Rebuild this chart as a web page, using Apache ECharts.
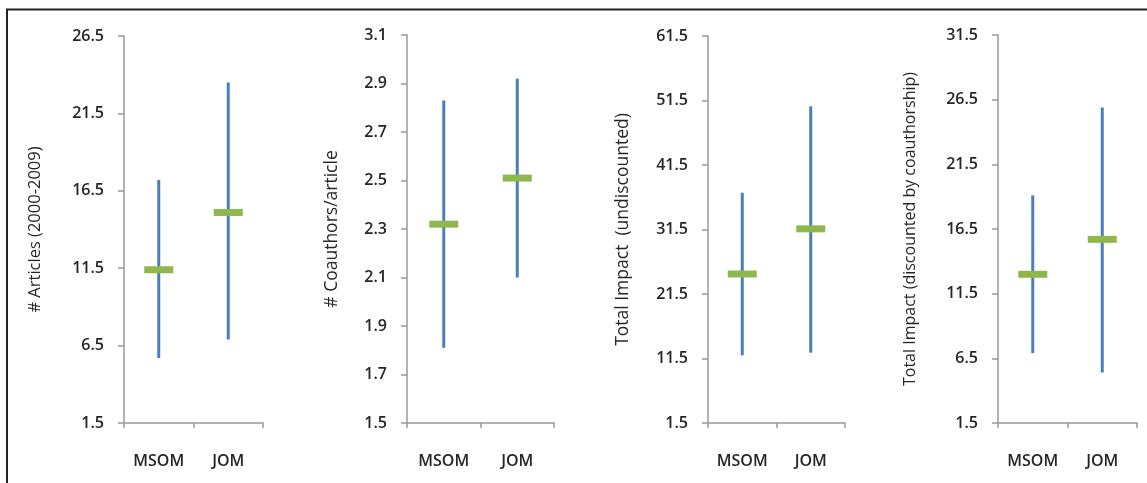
<!DOCTYPE html>
<html><head><meta charset="utf-8">
<script src="https://cdn.jsdelivr.net/npm/echarts@6/dist/echarts.min.js"></script>
<style>html,body{margin:0;padding:0;background:#fff}#c{width:1147px;height:483px}</style>
</head><body><div id="c"></div>
<script>
// Categories
const categories = ['MSOM', 'JOM'];

// Panel 1: # Articles (2000-2009)
const articlesLow  = [5.7, 6.9];
const articlesHigh = [17.2, 23.5];
const articlesMean = [11.4, 15.1];
const articlesTicks = [1.5, 6.5, 11.5, 16.5, 21.5, 26.5];

// Panel 2: # Coauthors/article
const coauthLow  = [1.81, 2.10];
const coauthHigh = [2.83, 2.92];
const coauthMean = [2.32, 2.51];
const coauthTicks = [1.5, 1.7, 1.9, 2.1, 2.3, 2.5, 2.7, 2.9, 3.1];

// Panel 3: Total Impact (undiscounted)
const impactLow  = [12.0, 12.4];
const impactHigh = [37.2, 50.6];
const impactMean = [24.6, 31.6];
const impactTicks = [1.5, 11.5, 21.5, 31.5, 41.5, 51.5, 61.5];

// Panel 4: Total Impact (discounted by coauthorship)
const discLow  = [6.9, 5.4];
const discHigh = [19.1, 25.9];
const discMean = [13.0, 15.7];
const discTicks = [1.5, 6.5, 11.5, 16.5, 21.5, 26.5, 31.5];

const panels = [
  {name: '# Articles (2000-2009)', low: articlesLow, high: articlesHigh, mean: articlesMean, ticks: articlesTicks,
   grid: {left: 124, top: 36, width: 139, height: 387}, gap: 89, nameSize: 16.5},
  {name: '# Coauthors/article', low: coauthLow, high: coauthHigh, mean: coauthMean, ticks: coauthTicks,
   grid: {left: 407, top: 35, width: 147, height: 388}, gap: 75, nameSize: 17.5},
  {name: 'Total Impact  (undiscounted)', low: impactLow, high: impactHigh, mean: impactMean, ticks: impactTicks,
   grid: {left: 708, top: 36, width: 137, height: 387}, gap: 85, nameSize: 17.5},
  {name: 'Total Impact (discounted by coauthorship)', low: discLow, high: discHigh, mean: discMean, ticks: discTicks,
   grid: {left: 998, top: 35, width: 139, height: 388}, gap: 88, nameSize: 16}
];

const axisColor = '#999999';
const textColor = '#262626';
const fontFamily = 'Open Sans';

const grids = [], xAxes = [], yAxes = [], series = [];
panels.forEach((p, i) => {
  grids.push(Object.assign({}, p.grid));
  xAxes.push({
    type: 'category', gridIndex: i, data: categories, boundaryGap: true,
    axisLine: {lineStyle: {color: axisColor, width: 1.5}},
    axisTick: {show: true, alignWithLabel: false, length: 5, inside: false, lineStyle: {color: axisColor, width: 1.5}},
    axisLabel: {color: textColor, fontFamily: fontFamily, fontSize: 16, fontWeight: 600, margin: 30},
    splitLine: {show: false}
  });
  yAxes.push({
    type: 'value', gridIndex: i,
    min: p.ticks[0], max: p.ticks[p.ticks.length - 1],
    name: p.name, nameLocation: 'middle', nameGap: p.gap, nameRotate: 90,
    nameTextStyle: {color: textColor, fontFamily: fontFamily, fontSize: p.nameSize, verticalAlign: 'middle'},
    axisLine: {show: true, lineStyle: {color: axisColor, width: 1.5}},
    axisTick: {show: true, length: 6, customValues: p.ticks, lineStyle: {color: axisColor, width: 1.5}},
    axisLabel: {color: textColor, fontFamily: fontFamily, fontSize: 16, fontWeight: 600, margin: 20, customValues: p.ticks},
    splitLine: {show: false}
  });
  series.push({
    type: 'custom', xAxisIndex: i, yAxisIndex: i,
    encode: {x: 0, y: [1, 2]},
    data: categories.map((c, k) => [k, p.low[k], p.high[k]]),
    renderItem: function (params, api) {
      const x = api.value(0);
      const a = api.coord([x, api.value(1)]);
      const b = api.coord([x, api.value(2)]);
      return {type: 'line', shape: {x1: a[0], y1: a[1], x2: b[0], y2: b[1]},
              style: {stroke: '#4a7ebb', lineWidth: 3}};
    },
    z: 2
  });
  series.push({
    type: 'scatter', xAxisIndex: i, yAxisIndex: i,
    data: p.mean.slice(),
    symbol: 'rect', symbolSize: [29, 7],
    itemStyle: {color: '#8fb74e', opacity: 1},
    z: 3
  });
});

const chart = echarts.init(document.getElementById('c'), null, {renderer: 'canvas'});
chart.setOption({
  backgroundColor: '#ffffff',
  animation: false,
  grid: grids, xAxis: xAxes, yAxis: yAxes, series: series,
  graphic: [{
    type: 'polyline', silent: true,
    shape: {points: [[7, 483], [7, 9.5], [1147, 9.5]]},
    style: {stroke: '#222222', lineWidth: 2, fill: null}
  }]
});
</script>
</body></html>
